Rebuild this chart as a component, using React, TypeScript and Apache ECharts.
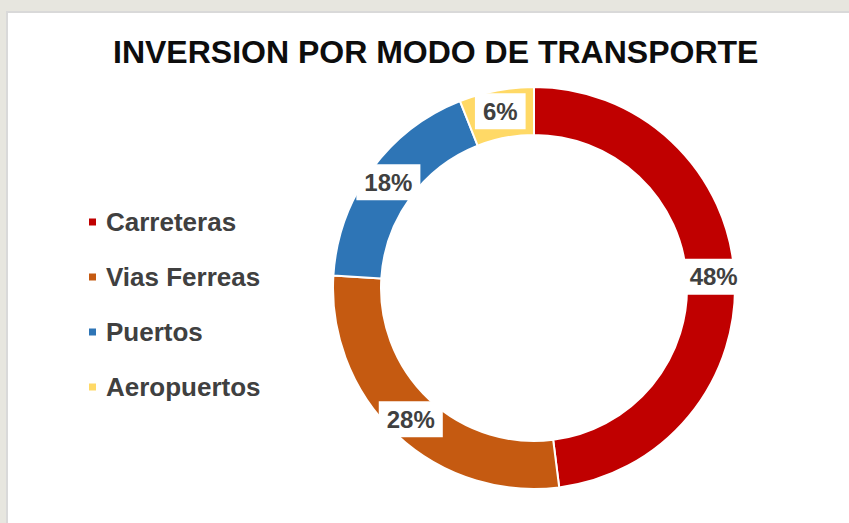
import React, { useEffect, useRef } from "react";
import * as echarts from "echarts";

const categories = ["Carreteras", "Vias Ferreas", "Puertos", "Aeropuertos"];
const values = [48, 28, 18, 6];
const colors = ["#C00000", "#C55A11", "#2E75B6", "#FFD966"];
const titleText = "INVERSION POR MODO DE TRANSPORTE";

export default function App() {
  const ref = useRef<HTMLDivElement>(null);
  useEffect(() => {
    document.body.style.margin = "0";
    const chart = echarts.init(ref.current!, null, { renderer: "svg" });
    chart.setOption({
      animation: false,
      backgroundColor: "#e7e6df",
      graphic: [
        {
          type: "rect",
          z: -10,
          shape: { x: 7, y: 12, width: 860, height: 530 },
          style: { fill: "#ffffff", stroke: "#d9d9d9", lineWidth: 2 },
        },
      ],
      title: {
        text: titleText,
        left: 113,
        top: 36,
        padding: 0,
        textStyle: {
          fontFamily: "Liberation Sans, Arial, sans-serif",
          fontSize: 32,
          fontWeight: "bold",
          color: "#0d0d0d",
          lineHeight: 32,
        },
      },
      legend: {
        orient: "vertical",
        left: 87,
        top: 209,
        padding: 0,
        itemWidth: 9,
        itemHeight: 9,
        itemGap: 29,
        icon: "rect",
        data: categories,
        textStyle: {
          fontFamily: "Liberation Sans, Arial, sans-serif",
          fontSize: 26,
          fontWeight: "bold",
          color: "#404040",
          lineHeight: 26,
          padding: [0, 0, 0, 4],
        },
      },
      series: [
        {
          type: "pie",
          center: [534, 288],
          radius: [153, 201],
          startAngle: 90,
          clockwise: true,
          avoidLabelOverlap: false,
          itemStyle: { borderColor: "#ffffff", borderWidth: 2 },
          label: {
            show: true,
            position: "inside",
            formatter: "{c}%",
            fontFamily: "Liberation Sans, Arial, sans-serif",
            fontSize: 24,
            fontWeight: "bold",
            color: "#404040",
            backgroundColor: "#ffffff",
            padding: [6, 8],
            lineHeight: 24,
          },
          labelLine: { show: false },
          data: categories.map((name, i) => ({
            name,
            value: values[i],
            itemStyle: { color: colors[i] },
          })),
        },
      ],
    });
    return () => chart.dispose();
  }, []);
  return (
    <div
      ref={ref}
      style={{ position: "absolute", left: 0, top: 0, width: 849, height: 523 }}
    />
  );
}
